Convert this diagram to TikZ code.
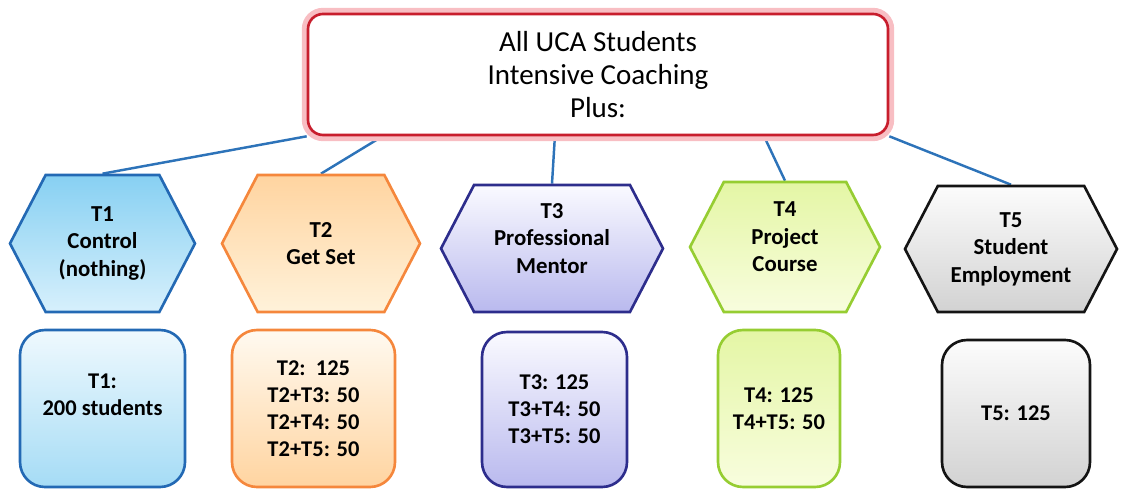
\documentclass[tikz,border=0pt]{standalone}
\usepackage{fontspec}
\setmainfont{Carlito}
\usetikzlibrary{shapes.symbols, calc, backgrounds}

\definecolor{linkblue}{RGB}{45,115,185}
\definecolor{topred}{RGB}{200,30,45}
\definecolor{glowpink}{RGB}{248,190,195}
\definecolor{oneline}{RGB}{35,105,180}
\definecolor{onetop}{RGB}{135,208,242}
\definecolor{onebot}{RGB}{215,240,252}
\definecolor{twoline}{RGB}{245,135,60}
\definecolor{twotop}{RGB}{255,212,160}
\definecolor{twobot}{RGB}{255,242,218}
\definecolor{threeline}{RGB}{45,45,140}
\definecolor{threetop}{RGB}{250,250,255}
\definecolor{threebot}{RGB}{185,185,238}
\definecolor{fourline}{RGB}{150,205,50}
\definecolor{fourtop}{RGB}{228,246,165}
\definecolor{fourbot}{RGB}{248,253,222}
\definecolor{fiveline}{RGB}{20,20,20}
\definecolor{fivetop}{RGB}{252,252,252}
\definecolor{fivebot}{RGB}{210,210,210}

\begin{document}
\begin{tikzpicture}[
    hexa/.style={signal, signal to=east and west, signal pointer angle=125, draw, line width=1.5pt,
      align=center, inner sep=0pt, font=\fontsize{13}{15.6}\selectfont\bfseries},
    count/.style={rectangle, rounded corners=0.5cm, draw, line width=1.5pt,
      align=center, inner sep=0pt, font=\fontsize{12.8}{15.4}\selectfont\bfseries},
    link/.style={draw=linkblue, line width=1.4pt}
  ]
    \useasboundingbox (0,0) rectangle (22.52,9.9);

    \node[draw=topred, line width=1.5pt, rounded corners=0.3cm, fill=white, minimum width=11.6cm, minimum height=2.42cm,
      preaction={draw=glowpink, line width=7pt}, align=center, font=\fontsize{16.5}{18.6}\selectfont] (all) at (11.96,8.41)
      {All UCA Students\\Intensive Coaching\\Plus:};

    \node[hexa, draw=oneline, top color=onetop, bottom color=onebot, minimum width=3.7cm, minimum height=2.74cm] (t1) at (2.05,5.03) {T1\\Control\\(nothing)};
    \node[hexa, draw=twoline, top color=twotop, bottom color=twobot, minimum width=3.96cm, minimum height=2.74cm] (t2) at (6.42,5.03) {T2\\Get Set};
    \node[hexa, draw=threeline, top color=threetop, bottom color=threebot, minimum width=4.44cm, minimum height=2.54cm] (t3) at (11.04,4.93) {T3\\Professional\\Mentor\\[-4pt]\mbox{}};
    \node[hexa, draw=fourline, top color=fourtop, bottom color=fourbot, minimum width=3.8cm, minimum height=2.6cm] (t4) at (15.70,4.96) {T4\\Project\\Course\\[-4pt]\mbox{}};
    \node[hexa, draw=fiveline, top color=fivetop, bottom color=fivebot, minimum width=4.24cm, minimum height=2.52cm] (t5) at (20.22,4.92) {T5\\Student\\Employment};

    \node[count, draw=oneline, top color=onebot!40!white, bottom color=onetop!75!white, minimum width=3.3cm, minimum height=3.14cm] (n1) at (2.05,1.73) {T1:\\200 students\\\mbox{}};
    \node[count, draw=twoline, top color=twobot!40!white, bottom color=twotop, minimum width=3.26cm, minimum height=3.14cm] (n2) at (6.27,1.73) {T2:~~125\\T2+T3: 50\\T2+T4: 50\\T2+T5: 50};
    \node[count, draw=threeline, top color=threetop, bottom color=threebot, minimum width=2.9cm, minimum height=3.1cm] (n3) at (11.09,1.71) {T3: 125\\T3+T4: 50\\T3+T5: 50};
    \node[count, draw=fourline, top color=fourtop, bottom color=fourbot, minimum width=2.44cm, minimum height=3.14cm] (n4) at (15.58,1.73) {T4: 125\\T4+T5: 50};
    \node[count, draw=fiveline, top color=fivetop, bottom color=fivebot, minimum width=2.96cm, minimum height=2.94cm] (n5) at (20.32,1.63) {T5: 125};

    \begin{scope}[on background layer]
      \draw[link] (t1.north) -- (all.south west);
      \draw[link] (t2.north) -- ($(all.south west)!0.13!(all.south east)$);
      \draw[link] (t3.north) -- ($(all.south west)!0.426!(all.south east)$);
      \draw[link] (t4.north) -- ($(all.south west)!0.785!(all.south east)$);
      \draw[link] (t5.north) -- (all.south east);
    \end{scope}
\end{tikzpicture}
\end{document}
